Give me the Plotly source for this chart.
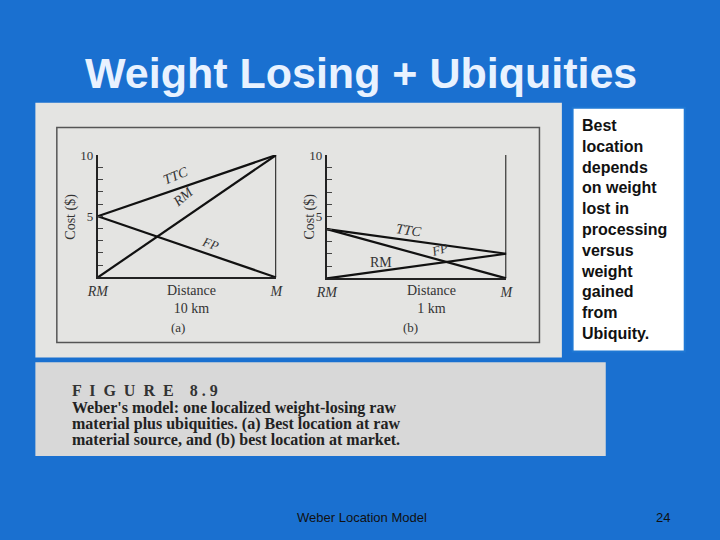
import plotly.graph_objects as go

x = [0, 10]
a_rm = [0, 10]
a_fp = [5, 0]
a_ttc = [5, 10]
b_rm = [0, 2]
b_fp = [4, 0]
b_ttc = [4, 2]
yticks = list(range(11))
yticktext = ["" if v not in (5, 10) else str(v) for v in yticks]

W, H = 720, 540
def px(v): return v / W
def py(v): return 1 - v / H

fig = go.Figure()
for ax, series in (("", (a_rm, a_fp, a_ttc)), ("2", (b_rm, b_fp, b_ttc))):
    for s in series:
        fig.add_trace(go.Scatter(x=x, y=s, mode="lines", line=dict(color="#111", width=2.2),
                                 xaxis="x" + ax, yaxis="y" + ax, showlegend=False, hoverinfo="skip"))
    fig.add_trace(go.Scatter(x=[10, 10], y=[0, 10], mode="lines", line=dict(color="#111", width=2),
                             xaxis="x" + ax, yaxis="y" + ax, showlegend=False, hoverinfo="skip"))

serif = "Liberation Serif"
axstyle = dict(range=[0, 10], showgrid=False, zeroline=False, showline=True, linecolor="#222", linewidth=2)
fig.update_layout(
    width=W, height=H, margin=dict(l=0, r=0, t=0, b=0),
    paper_bgcolor="#1a70d0", plot_bgcolor="rgba(0,0,0,0)",
    xaxis=dict(domain=[px(89), px(272)], anchor="y", tickvals=[0, 10], ticktext=["<i>RM</i>", "<i>M</i>"],
               ticks="", tickfont=dict(family=serif, size=14, color="#333"), **axstyle),
    yaxis=dict(domain=[py(274), py(150)], anchor="x", tickvals=yticks, ticktext=yticktext, ticks="inside",
               ticklen=5, tickfont=dict(family=serif, size=13, color="#333"), **axstyle),
    xaxis2=dict(domain=[px(324), px(508)], anchor="y2", tickvals=[0, 10], ticktext=["<i>RM</i>", "<i>M</i>"],
                ticks="", tickfont=dict(family=serif, size=14, color="#333"), **axstyle),
    yaxis2=dict(domain=[py(275), py(150)], anchor="x2", tickvals=yticks, ticktext=yticktext, ticks="inside",
                ticklen=5, tickfont=dict(family=serif, size=13, color="#333"), **axstyle),
)

shapes = [
    dict(type="rect", xref="paper", yref="paper", x0=px(25), x1=px(565), y0=py(355), y1=py(97),
         fillcolor="#e4e4e2", line=dict(width=0), layer="below"),
    dict(type="rect", xref="paper", yref="paper", x0=px(47), x1=px(542), y0=py(340), y1=py(122),
         fillcolor="rgba(0,0,0,0)", line=dict(color="#555", width=1.5), layer="below"),
    dict(type="rect", xref="paper", yref="paper", x0=px(25), x1=px(610), y0=py(455), y1=py(360),
         fillcolor="#d8d8d8", line=dict(width=0), layer="below"),
    dict(type="rect", xref="paper", yref="paper", x0=px(576), x1=px(691), y0=py(349), y1=py(102),
         fillcolor="white", line=dict(color="#1f78d4", width=2), layer="below"),
]
fig.update_layout(shapes=shapes)

ann = []
def A(text, xx, yy, size=12, color="#333", family=serif, angle=0, xanchor="center", yanchor="middle", xref="paper", yref="paper", align="center"):
    ann.append(dict(text=text, x=xx, y=yy, xref=xref, yref=yref, showarrow=False, font=dict(size=size, color=color, family=family),
                    textangle=angle, xanchor=xanchor, yanchor=yanchor, align=align))

A("<b>Weight Losing + Ubiquities</b>", px(359), py(67), size=43, color="#e8f2ff", family="Liberation Sans")
A("<b>Best<br>location<br>depends<br>on weight<br>lost in<br>processing<br>versus<br>weight<br>gained<br>from<br>Ubiquity.</b>",
  px(583), py(225), size=16, color="#111", family="Liberation Sans", xanchor="left", align="left")
A("Cost ($)", px(62), py(212), size=14, angle=-90)
A("Cost ($)", px(307), py(212), size=14, angle=-90)
A("Distance<br>10 km", px(185), py(296), size=14)
A("Distance<br>1 km", px(431), py(296), size=14)
A("(a)", px(171), py(325), size=13)
A("(b)", px(410), py(325), size=13)
A("<i>TTC</i>", 4.4, 8.3, size=14, angle=-22, xref="x", yref="y")
A("<i>RM</i>", 4.8, 6.6, size=14, angle=-40, xref="x", yref="y")
A("<i>FP</i>", 6.3, 2.8, size=13, angle=20, xref="x", yref="y")
A("<i>TTC</i>", 4.6, 3.9, size=14, angle=8, xref="x2", yref="y2")
A("<i>FP</i>", 6.3, 2.35, size=13, angle=-15, xref="x2", yref="y2")
A("RM", 3.0, 1.3, size=14, xref="x2", yref="y2")
A("<b>F  I  G  U  R  E    8 . 9</b>", px(60), py(389), size=16, color="#333", xanchor="left")
cap = ["Weber's model: one localized weight-losing raw",
       "material plus ubiquities. (a) Best location at raw",
       "material source, and (b) best location at market."]
for i, c in enumerate(cap):
    A("<b>" + c + "</b>", px(60), py(406 + 16.5 * i), size=16, color="#222", xanchor="left")
A("Weber Location Model", px(360), py(517), size=13, color="#111", family="Liberation Sans")
A("24", px(669), py(517), size=13, color="#111", family="Liberation Sans")
fig.update_layout(annotations=ann)
fig.write_html("out.html", config={"displayModeBar": False},
               post_script="document.body.style.margin='0';document.body.style.overflow='hidden';")
